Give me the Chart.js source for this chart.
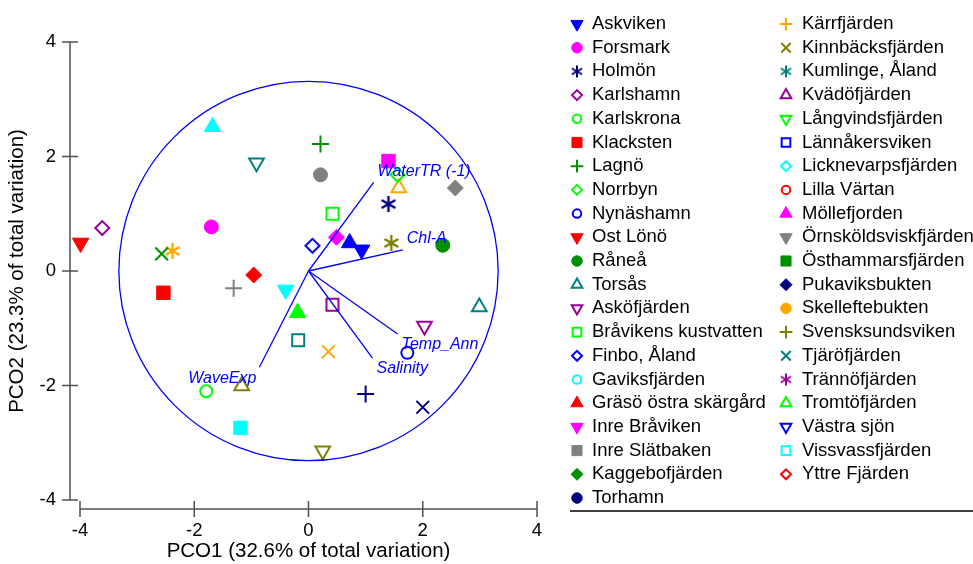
<!DOCTYPE html>
<html>
<head>
<meta charset="utf-8">
<script src="https://cdn.jsdelivr.net/npm/chart.js@4.4.1/dist/chart.umd.min.js"></script>
<style>
  html, body { margin: 0; padding: 0; background: #fff; }
  #wrap { width: 973px; height: 564px; }
</style>
</head>
<body>
<div id="wrap"><canvas id="pco"></canvas></div>
<script>
// legend entries (sites), in legend order
const siteNames = [
  'Askviken', 'Forsmark', 'Holmön', 'Karlshamn', 'Karlskrona', 'Klacksten', 'Lagnö',
  'Norrbyn', 'Nynäshamn', 'Ost Lönö', 'Råneå', 'Torsås', 'Asköfjärden',
  'Bråvikens kustvatten', 'Finbo, Åland', 'Gaviksfjärden', 'Gräsö östra skärgård',
  'Inre Bråviken', 'Inre Slätbaken', 'Kaggebofjärden', 'Torhamn',
  'Kärrfjärden', 'Kinnbäcksfjärden', 'Kumlinge, Åland', 'Kvädöfjärden', 'Långvindsfjärden',
  'Lännåkersviken', 'Licknevarpsfjärden', 'Lilla Värtan', 'Möllefjorden',
  'Örnsköldsviskfjärden', 'Östhammarsfjärden', 'Pukaviksbukten', 'Skelleftebukten',
  'Svensksundsviken', 'Tjäröfjärden', 'Trännöfjärden', 'Tromtöfjärden', 'Västra sjön',
  'Vissvassfjärden', 'Yttre Fjärden'
];

// plotted samples
const pointSite = [
  'Gaviksfjärden', 'Kumlinge, Åland', 'Karlshamn', 'Ost Lönö', 'Forsmark', 'Kaggebofjärden',
  'Kärrfjärden', 'Gräsö östra skärgård', 'Örnsköldsviskfjärden', 'Klacksten', 'Karlskrona',
  'Kinnbäcksfjärden', 'Vissvassfjärden', 'Lagnö', 'Inre Slätbaken', 'Inre Bråviken', 'Norrbyn',
  'Skelleftebukten', 'Östhammarsfjärden', 'Holmön', 'Bråvikens kustvatten', 'Möllefjorden',
  'Finbo, Åland', 'Lännåkersviken', 'Askviken', 'Svensksundsviken', 'Råneå',
  'Licknevarpsfjärden', 'Kvädöfjärden', 'Tromtöfjärden', 'Tjäröfjärden', 'Lilla Värtan',
  'Asköfjärden', 'Torsås', 'Nynäshamn', 'Torhamn', 'Pukaviksbukten', 'Västra sjön'
];
const pco1 = [
  -1.68, -0.91, -3.61, -3.99, -1.70, -2.57, -2.38, -0.96, -1.31, -2.54, -1.79,
  -1.17, -1.19, 0.21, 0.21, 1.40, 1.56, 1.58, 2.57, 1.40, 0.42, 0.49,
  0.07, 0.72, 0.93, 1.45, 2.35, -0.40, 0.42, -0.19, -0.18, 0.35,
  2.03, 2.99, 1.73, 1.00, 2.00, 0.25
];
const pco2 = [
  2.52, 1.89, 0.75, 0.49, 0.77, 0.30, 0.35, -0.07, -0.30, -0.38, -2.10,
  -2.01, -2.74, 2.22, 1.68, 1.92, 1.68, 1.45, 1.45, 1.17, 1.00, 0.59,
  0.44, 0.49, 0.37, 0.49, 0.45, -0.33, -0.59, -0.73, -1.21, -1.41,
  -0.96, -0.63, -1.43, -2.15, -2.38, -3.14
];

// vector overlay
const vectorNames = ['WaterTR (-1)', 'Chl-A', 'Temp_Ann', 'Salinity', 'WaveExp'];
const vectorX = [1.14, 1.65, 1.56, 1.12, -0.86];
const vectorY = [1.55, 0.37, -1.10, -1.52, -1.68];
const circleRadius = 3.32;

const axisTicks = [-4, -2, 0, 2, 4];
const xTitle = 'PCO1 (32.6% of total variation)';
const yTitle = 'PCO2 (23.3% of total variation)';

// ---- styling ----
const FONT = '"Liberation Sans", Arial, sans-serif';
const COL = {
  blue: '#0000ff', magenta: '#ff00ff', navy: '#000080', purple: '#990099', lime: '#00ff00',
  red: '#ff0000', green: '#009000', teal: '#008080', cyan: '#00ffff', gray: '#808080',
  orange: '#ffa500', olive: '#808000'
};

// [shape, colour, filled]
const legendMarks = [
  ['dtri', 'blue', 1], ['circ', 'magenta', 1], ['ast', 'navy', 0], ['dia', 'purple', 0],
  ['circ', 'lime', 0], ['sq', 'red', 1], ['plus', 'green', 0], ['dia', 'lime', 0],
  ['circ', 'blue', 0], ['dtri', 'red', 1], ['circ', 'green', 1], ['tri', 'teal', 0],
  ['dtri', 'purple', 0], ['sq', 'lime', 0], ['dia', 'blue', 0], ['circ', 'cyan', 0],
  ['tri', 'red', 1], ['dtri', 'magenta', 1], ['sq', 'gray', 1], ['dia', 'green', 1],
  ['circ', 'navy', 1],
  ['plus', 'orange', 0], ['x', 'olive', 0], ['ast', 'teal', 0], ['tri', 'purple', 0],
  ['dtri', 'lime', 0], ['sq', 'blue', 0], ['dia', 'cyan', 0], ['circ', 'red', 0],
  ['tri', 'magenta', 1], ['dtri', 'gray', 1], ['sq', 'green', 1], ['dia', 'navy', 1],
  ['circ', 'orange', 1], ['plus', 'olive', 0], ['x', 'teal', 0], ['ast', 'purple', 0],
  ['tri', 'lime', 0], ['dtri', 'blue', 0], ['sq', 'cyan', 0], ['dia', 'red', 0]
];
const pointMarks = [
  ['tri', 'cyan', 1], ['dtri', 'teal', 0], ['dia', 'purple', 0], ['dtri', 'red', 1],
  ['circ', 'magenta', 1], ['x', 'green', 0], ['ast', 'orange', 0], ['dia', 'red', 1],
  ['plus', 'gray', 0], ['sq', 'red', 1], ['circ', 'lime', 0], ['tri', 'olive', 0],
  ['sq', 'cyan', 1], ['plus', 'green', 0], ['circ', 'gray', 1], ['sq', 'magenta', 1],
  ['dia', 'lime', 0], ['tri', 'orange', 0], ['dia', 'gray', 1], ['ast', 'navy', 0],
  ['sq', 'lime', 0], ['dia', 'magenta', 1], ['dia', 'blue', 0], ['tri', 'blue', 1],
  ['dtri', 'blue', 1], ['ast', 'olive', 0], ['circ', 'green', 1], ['dtri', 'cyan', 1],
  ['sq', 'purple', 0], ['tri', 'lime', 1], ['sq', 'teal', 0], ['x', 'orange', 0],
  ['dtri', 'purple', 0], ['tri', 'teal', 0], ['circ', 'blue', 0], ['plus', 'navy', 0],
  ['x', 'navy', 0], ['dtri', 'olive', 0]
];

const SIZE = {tri: 9.5, dtri: 9.5, circ: 7, sq: 9.5, dia: 8, plus: 8.5, x: 9, ast: 18};

function asterisk(color, s) {
  const cv = document.createElement('canvas');
  cv.width = cv.height = Math.round(s);
  const g = cv.getContext('2d');
  g.strokeStyle = color; g.lineWidth = s > 15 ? 2.4 : 2;
  const c = cv.width / 2, h = c - 1;
  [90, 30, 150].forEach(a => {
    const r = a * Math.PI / 180;
    g.beginPath();
    g.moveTo(c - Math.cos(r) * h, c - Math.sin(r) * h);
    g.lineTo(c + Math.cos(r) * h, c + Math.sin(r) * h);
    g.stroke();
  });
  return cv;
}

function markOpts(mark, k) {
  const [shape, col, filled] = mark;
  const c = COL[col];
  const styles = {tri: 'triangle', dtri: 'triangle', circ: 'circle', sq: 'rect', dia: 'rectRot', plus: 'cross', x: 'crossRot'};
  let r = SIZE[shape] * k;
  if (!filled && (shape === 'sq' || shape === 'dia' || shape === 'circ' || shape === 'tri' || shape === 'dtri')) r -= 1;
  return {
    pointStyle: shape === 'ast' ? asterisk(c, SIZE.ast * k) : styles[shape],
    rotation: shape === 'dtri' ? 180 : 0,
    radius: r,
    fill: filled ? c : 'rgba(0,0,0,0)',
    stroke: c,
    borderWidth: filled ? 1 : 2
  };
}

const datasets = pco1.map((x, i) => {
  const o = markOpts(pointMarks[i], 1);
  return {
    label: pointSite[i],
    data: [{x: x, y: pco2[i]}],
    clip: false,
    pointStyle: o.pointStyle,
    pointRotation: o.rotation,
    pointRadius: o.radius,
    pointHoverRadius: o.radius,
    pointBackgroundColor: o.fill,
    pointBorderColor: o.stroke,
    pointBorderWidth: o.borderWidth
  };
});

const vectorPlugin = {
  id: 'vectors',
  afterDatasetsDraw(chart) {
    const {ctx, scales: {x, y}} = chart;
    const ox = x.getPixelForValue(0), oy = y.getPixelForValue(0);
    const pr = x.getPixelForValue(circleRadius) - ox;
    ctx.save();
    ctx.strokeStyle = '#0000ff';
    ctx.lineWidth = 1.3;
    ctx.beginPath();
    ctx.arc(ox, oy, pr, 0, Math.PI * 2);
    ctx.stroke();
    ctx.font = 'italic 16px ' + FONT;
    ctx.fillStyle = '#0000ff';
    ctx.textBaseline = 'middle';
    vectorNames.forEach((name, i) => {
      const ex = x.getPixelForValue(vectorX[i]), ey = y.getPixelForValue(vectorY[i]);
      ctx.beginPath();
      ctx.moveTo(ox, oy);
      ctx.lineTo(ex, ey);
      ctx.stroke();
      const left = vectorX[i] < 0;
      ctx.textAlign = left ? 'right' : 'left';
      ctx.fillText(name, ex + (left ? -3 : 4), ey + (vectorY[i] > 0 ? -11 : 11));
    });
    ctx.restore();
  }
};

const axesPlugin = {
  id: 'offsetAxes',
  afterDraw(chart) {
    const {ctx, scales: {x, y}} = chart;
    ctx.save();
    ctx.strokeStyle = '#505050';
    ctx.lineWidth = 1.5;
    const ax = 70, ay = 509;
    ctx.beginPath();
    ctx.moveTo(ax, y.getPixelForValue(4));
    ctx.lineTo(ax, y.getPixelForValue(-4));
    axisTicks.forEach(t => {
      const p = y.getPixelForValue(t);
      ctx.moveTo(ax - 8, p); ctx.lineTo(ax + 8, p);
    });
    ctx.moveTo(x.getPixelForValue(-4), ay);
    ctx.lineTo(x.getPixelForValue(4), ay);
    axisTicks.forEach(t => {
      const p = x.getPixelForValue(t);
      ctx.moveTo(p, ay - 8); ctx.lineTo(p, ay + 8);
    });
    ctx.stroke();
    ctx.restore();
  }
};

const legendPlugin = {
  id: 'siteLegend',
  afterDraw(chart) {
    const ctx = chart.ctx;
    ctx.save();
    ctx.font = '18.5px ' + FONT;
    ctx.textBaseline = 'middle';
    ctx.textAlign = 'left';
    siteNames.forEach((name, i) => {
      const col = i < 21 ? 0 : 1;
      const row = col ? i - 21 : i;
      const cy = 24 + row * 23.7;
      const mx = col ? 786 : 577;
      const tx = col ? 802 : 592;
      const o = markOpts(legendMarks[i], 0.75);
      ctx.fillStyle = o.fill;
      ctx.strokeStyle = o.stroke;
      ctx.lineWidth = o.borderWidth;
      Chart.helpers.drawPoint(ctx, {pointStyle: o.pointStyle, rotation: o.rotation, radius: o.radius, borderWidth: o.borderWidth}, mx, cy);
      ctx.fillStyle = '#000';
      ctx.fillText(name, tx, cy);
    });
    ctx.strokeStyle = '#000';
    ctx.lineWidth = 1.5;
    ctx.beginPath();
    ctx.moveTo(570, 511);
    ctx.lineTo(973, 511);
    ctx.stroke();
    ctx.restore();
  }
};

new Chart(document.getElementById('pco'), {
  type: 'scatter',
  data: {datasets: datasets},
  options: {
    responsive: true,
    maintainAspectRatio: false,
    animation: false,
    layout: {padding: {left: 0, right: 436, top: 42, bottom: 0}},
    plugins: {legend: {display: false}, tooltip: {enabled: false}},
    scales: {
      x: {
        type: 'linear', min: -4, max: 4,
        afterFit: s => { s.height = 64; },
        afterBuildTicks: s => { s.ticks = axisTicks.map(v => ({value: v})); },
        grid: {display: false, drawTicks: false},
        border: {display: false},
        ticks: {color: '#000', font: {family: FONT, size: 18.5}, padding: 20},
        title: {display: true, text: xTitle, color: '#000', font: {family: FONT, size: 20.5}, padding: 0}
      },
      y: {
        type: 'linear', min: -4, max: 4,
        afterFit: s => { s.width = 80; },
        afterBuildTicks: s => { s.ticks = axisTicks.map(v => ({value: v})); },
        grid: {display: false, drawTicks: false},
        border: {display: false},
        ticks: {color: '#000', font: {family: FONT, size: 18.5}, padding: 24},
        title: {display: true, text: yTitle, color: '#000', font: {family: FONT, size: 20.5}, padding: {top: 5, bottom: 0}}
      }
    }
  },
  plugins: [vectorPlugin, axesPlugin, legendPlugin]
});
</script>
</body>
</html>
